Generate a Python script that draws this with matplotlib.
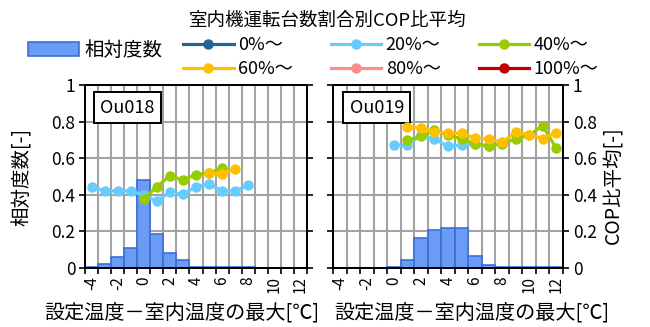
import numpy as np
import matplotlib
matplotlib.use("Agg")
import matplotlib.pyplot as plt

plt.rcParams['font.family'] = ['Noto Sans CJK JP', 'DejaVu Sans']

# 設定温度－室内温度の最大 (℃) の階級
cats = list(range(-4, 13))
tick_labels = [str(c) for c in range(-4, 13, 2)]

# 相対度数
freq_ou018 = [0.005, 0.022, 0.06, 0.109, 0.482, 0.185, 0.082, 0.045, 0.003,
              0.003, 0.003, 0.003, 0.003, 0, 0, 0, 0]
freq_ou019 = [0, 0, 0, 0, 0.005, 0.043, 0.163, 0.209, 0.219, 0.219, 0.065,
              0.017, 0.004, 0.004, 0.004, 0.004, 0.004]

# COP比平均 (室内機運転台数割合別)
ou018_20_x = list(range(-4, 9))
ou018_20 = [0.445, 0.421, 0.421, 0.421, 0.397, 0.366, 0.415, 0.403, 0.445,
            0.458, 0.421, 0.421, 0.452]
ou018_40_x = list(range(0, 7))
ou018_40 = [0.375, 0.445, 0.504, 0.482, 0.51, 0.52, 0.545]
ou018_60_x = [5, 6, 7]
ou018_60 = [0.519, 0.513, 0.541]

ou019_20_x = list(range(0, 8))
ou019_20 = [0.672, 0.672, 0.725, 0.705, 0.665, 0.672, 0.678, 0.668]
ou019_40_x = list(range(1, 13))
ou019_40 = [0.697, 0.72, 0.753, 0.725, 0.707, 0.679, 0.665, 0.68, 0.705,
            0.725, 0.778, 0.655]
ou019_60_x = list(range(1, 13))
ou019_60 = [0.772, 0.766, 0.744, 0.738, 0.735, 0.71, 0.705, 0.688, 0.742,
            0.729, 0.707, 0.74]

series_names = ['0%～', '20%～', '40%～', '60%～', '80%～', '100%～']
series_colors = ['#1f6596', '#66ccff', '#99cc00', '#ffc000', '#ff8c8c', '#c00000']

BAR_FACE = '#6b9cf5'
BAR_EDGE = '#3a6fd8'
GRID = '#a3a3a3'
TICK_FS = 12.5

fig = plt.figure(figsize=(6.5, 3.27), dpi=100)


def px_axes(x0, x1, y0, y1):
    return fig.add_axes([x0 / 650, 1 - y1 / 327, (x1 - x0) / 650, (y1 - y0) / 327])


def draw_panel(ax, freq, lines, name, left_labels):
    ylabels = ['0', '0.2', '0.4', '0.6', '0.8', '1']
    bars = ax.bar(cats, freq, width=1.0, color=BAR_FACE, edgecolor=BAR_EDGE,
                  linewidth=1.2, zorder=2)
    ax.set_xlim(-4.5, 12.5)
    ax.set_ylim(0, 1)
    ax.set_axisbelow(True)

    # 区切り線とラベル
    ax.set_xticks(np.arange(-4.5, 13.0, 1.0))
    ax.set_xticklabels([])
    ax.set_xticks(range(-4, 13, 2), minor=True)
    ax.set_xticklabels(tick_labels, minor=True, rotation=90, fontsize=11)
    ax.tick_params(axis='x', which='major', direction='out', length=4, width=1.2)
    ax.tick_params(axis='x', which='minor', length=0, pad=6)
    ax.set_yticks(np.arange(0, 1.01, 0.2))
    ax.set_yticklabels(ylabels if left_labels else [], fontsize=TICK_FS)
    ax.tick_params(axis='y', direction='out', length=4, width=1.2, pad=3)
    ax.grid(True, which='major', color=GRID, linewidth=1.5)

    ax2 = ax.twinx()
    ax2.set_ylim(0, 1)
    ax2.set_yticks(np.arange(0, 1.01, 0.2))
    ax2.set_yticklabels([] if left_labels else ylabels, fontsize=TICK_FS)
    ax2.tick_params(axis='y', direction='out', length=4, width=1.2, pad=3)

    handles = []
    for i, (nm, col) in enumerate(zip(series_names, series_colors)):
        xs, ys = lines.get(i, ([], []))
        h, = ax2.plot(xs, ys, color=col, linewidth=2.3, marker='o',
                      markersize=6.5, label=nm, zorder=3)
        handles.append(h)

    for a in (ax, ax2):
        for sp in a.spines.values():
            sp.set_color('black')
            sp.set_linewidth(1.4)

    ax.text(0.19, 0.877, name, transform=ax.transAxes, fontsize=13,
            ha='center', va='center', zorder=5,
            bbox=dict(boxstyle='square,pad=0.35', facecolor='white',
                      edgecolor='black', linewidth=1.4))
    return bars, handles


ax_l = px_axes(85, 307, 85, 268)
bars, handles = draw_panel(ax_l, freq_ou018,
                           {1: (ou018_20_x, ou018_20),
                            2: (ou018_40_x, ou018_40),
                            3: (ou018_60_x, ou018_60)},
                           'Ou018', True)

ax_r = px_axes(333, 563, 85, 268)
draw_panel(ax_r, freq_ou019,
           {1: (ou019_20_x, ou019_20),
            2: (ou019_40_x, ou019_40),
            3: (ou019_60_x, ou019_60)},
           'Ou019', False)

fig.text(22 / 650, 1 - 177 / 327, '相対度数[-]', rotation=90, ha='center',
         va='center', fontsize=14)
fig.text(614 / 650, 1 - 185 / 327, 'COP比平均[-]', rotation=90, ha='center',
         va='center', fontsize=14)
fig.text(182 / 650, 1 - 313 / 327, '設定温度－室内温度の最大[℃]', ha='center',
         va='center', fontsize=14.5)
fig.text(472 / 650, 1 - 313 / 327, '設定温度－室内温度の最大[℃]', ha='center',
         va='center', fontsize=14.5)

fig.text(328 / 650, 1 - 21 / 327, '室内機運転台数割合別COP比平均', ha='center',
         va='center', fontsize=13.3)

fig.legend([bars], ['相対度数'], loc='center left',
           bbox_to_anchor=(28 / 650, 1 - 50 / 327), frameon=False, fontsize=14,
           handlelength=2.6, handleheight=0.75, handletextpad=0.3,
           borderaxespad=0, borderpad=0)

order = [0, 3, 1, 4, 2, 5]
fig.legend([handles[i] for i in order], [series_names[i] for i in order],
           ncol=3, loc='center left', bbox_to_anchor=(183 / 650, 1 - 57 / 327),
           frameon=False, fontsize=13, handlelength=2.8, handletextpad=0.25,
           columnspacing=2.1, labelspacing=0.35, borderaxespad=0, borderpad=0)

fig.savefig('out.png', dpi=100)
